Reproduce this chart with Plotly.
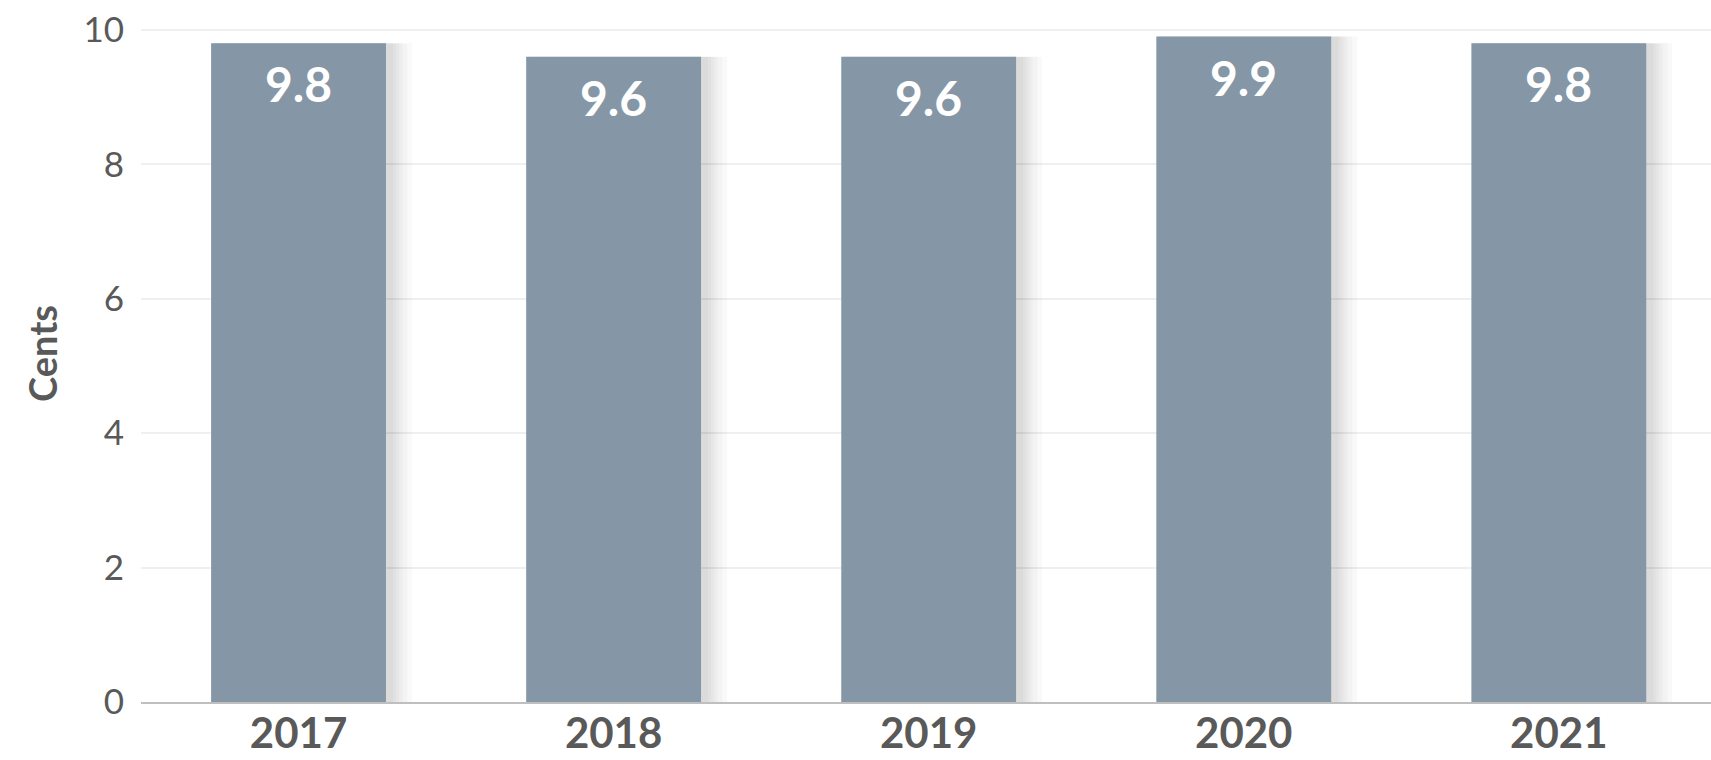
"""Bar chart: cents per year."""

import plotly.graph_objects as go

years = ["2017", "2018", "2019", "2020", "2021"]
cents = [9.8, 9.6, 9.6, 9.9, 9.8]
y_ticks = [0, 2, 4, 6, 8, 10]

_BAR_COLOR = "#8597a6"
_TEXT_COLOR = "#595959"
_FONT = "Lato, 'Open Sans', sans-serif"

fig = go.Figure()
# soft drop shadow: faint stacked layers from the same values, widening outward
for w in [0.63, 0.615, 0.6, 0.59, 0.58, 0.57]:
    fig.add_trace(
        go.Bar(
            x=years,
            y=cents,
            width=w,
            offset=-0.27,
            marker=dict(color="rgba(0,0,0,0.025)", line=dict(width=0)),
            hoverinfo="skip",
            showlegend=False,
        )
    )
fig.add_trace(
    go.Bar(
        x=years,
        y=cents,
        width=0.555,
        marker=dict(color=_BAR_COLOR, line=dict(width=0)),
        showlegend=False,
    )
)

# value labels sit inside the top of each bar (x is the category index)
for i, value in enumerate(cents):
    fig.add_annotation(
        x=i,
        y=value,
        text=f"{value:.1f}",
        showarrow=False,
        yanchor="top",
        yshift=-10,
        font=dict(family=_FONT, size=48, color="white", weight="bold"),
    )

fig.update_layout(
    width=1711,
    height=760,
    margin=dict(l=141, r=0, t=5, b=58),
    paper_bgcolor="white",
    plot_bgcolor="white",
    barmode="overlay",
    font=dict(family=_FONT, color=_TEXT_COLOR),
)
fig.update_xaxes(
    type="category",
    range=[-0.5, 4.483],
    automargin=False,
    showgrid=False,
    showline=True,
    linecolor="#bfbfbf",
    linewidth=2,
    tickfont=dict(size=42, color=_TEXT_COLOR, weight="bold"),
    ticks="",
    ticklabelstandoff=-6,
)
fig.update_yaxes(
    range=[0, 10.37],
    automargin=False,
    tickvals=y_ticks,
    showgrid=True,
    gridcolor="#efefef",
    gridwidth=1.5,
    zeroline=False,
    showline=False,
    tickfont=dict(size=35, color=_TEXT_COLOR),
    ticks="outside",
    ticklen=9,
    tickcolor="rgba(0,0,0,0)",
    title=dict(text="Cents", font=dict(size=38, color=_TEXT_COLOR, weight="bold"), standoff=14),
)

# drop the browser's default 8px body margin so the figure fills the window
fig.write_html(
    "out.html",
    config={"displayModeBar": False},
    post_script="document.body.style.margin = '0';",
)
